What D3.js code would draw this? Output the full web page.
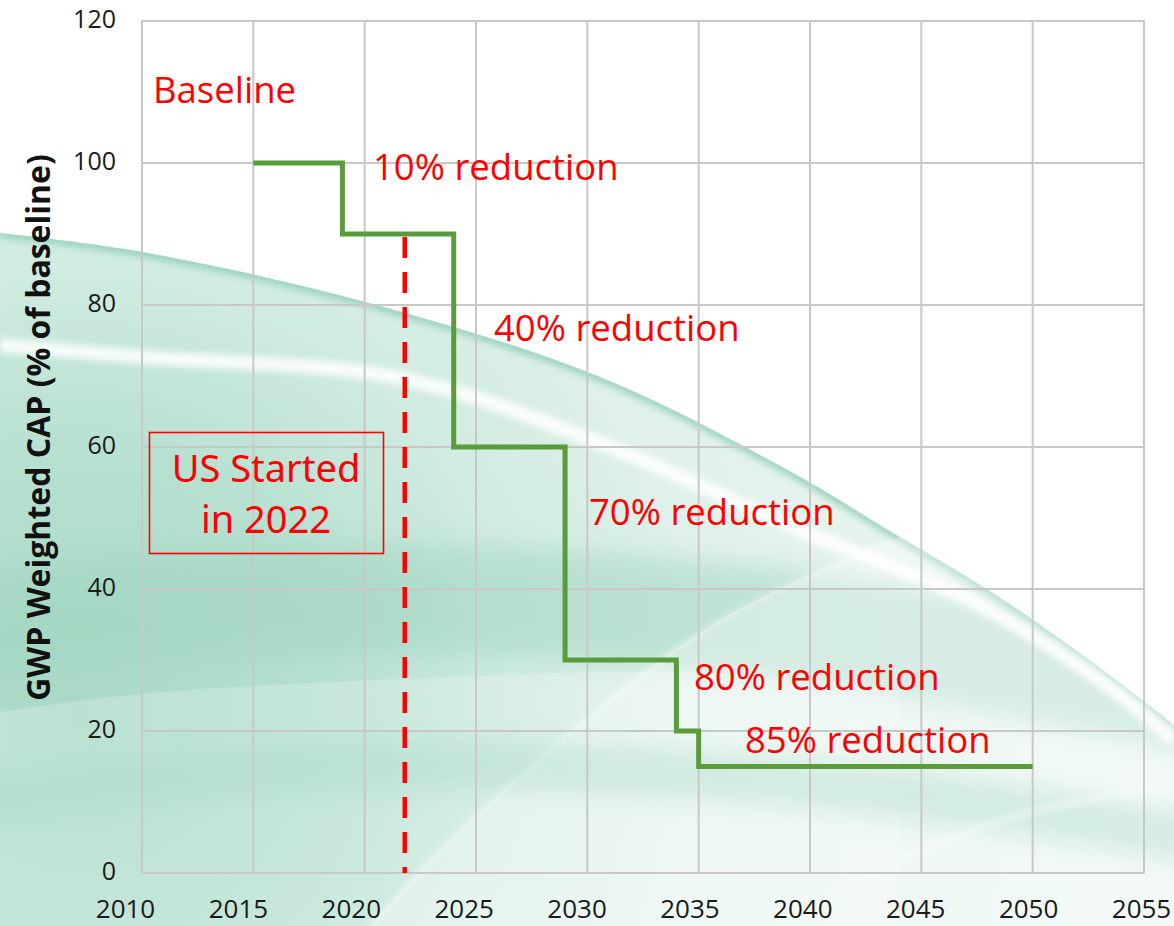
<!DOCTYPE html>
<html>
<head>
<meta charset="utf-8">
<script src="https://cdn.jsdelivr.net/npm/d3@7"></script>
<style>
  html, body { margin: 0; padding: 0; background: #ffffff; }
  svg { display: block; }
</style>
</head>
<body>
<div id="chart"></div>
<script>
// step schedule (year where the cap takes effect, % of baseline)
const stepYears = [2015, 2019, 2024, 2029, 2034, 2035, 2050];
const capValues = [100, 90, 60, 30, 20, 15, 15];

const startYear = 2021.8;
const xTicks = [2010, 2015, 2020, 2025, 2030, 2035, 2040, 2045, 2050, 2055];
const yTicks = [0, 20, 40, 60, 80, 100, 120];

const stepLabels = ["Baseline", "10% reduction", "40% reduction", "70% reduction", "80% reduction", "85% reduction"];
const boxLines = ["US Started", "in 2022"];

const width = 1174, height = 926;
const plot = { left: 142, right: 1144, top: 21, bottom: 873 };

const svg = d3.select("#chart").append("svg")
    .attr("width", width)
    .attr("height", height);

const x = d3.scaleLinear().domain([2010, 2055]).range([plot.left, plot.right]);
const y = d3.scaleLinear().domain([0, 120]).range([plot.bottom, plot.top]);
// tick labels in the picture sit a little left of the gridlines
const xLab = d3.scaleLinear().domain([2010, 2055]).range([125, 1141]);

// ---- background swoosh ----
const defs = svg.append("defs");
const grad = defs.append("radialGradient")
    .attr("id", "swoosh")
    .attr("gradientUnits", "userSpaceOnUse")
    .attr("cx", 80).attr("cy", 720).attr("r", 1050);
[[0, "#a9d9c6"], [0.25, "#b6e0d0"], [0.42, "#cfebe0"], [0.6, "#e0f1ea"], [1, "#edf7f3"]]
    .forEach(([o, c]) => grad.append("stop").attr("offset", o).attr("stop-color", c));

function blurFilter(id, sd) {
    defs.append("filter").attr("id", id)
        .attr("filterUnits", "userSpaceOnUse")
        .attr("x", 0).attr("y", 0).attr("width", width).attr("height", height)
        .append("feGaussianBlur").attr("stdDeviation", sd);
}
blurFilter("soft", 3);
blurFilter("softer", 12);

const edge = [[0, 233], [142, 252], [365, 302], [600, 377], [793, 473], [893, 533], [993, 593], [1093, 663], [1174, 725]];
const smooth = d3.line().curve(d3.curveCatmullRom);
const swooshPath = smooth(edge) + `L${width},${height}L0,${height}Z`;

defs.append("clipPath").attr("id", "swooshClip")
    .append("path").attr("d", swooshPath);

svg.append("path")
    .attr("d", swooshPath)
    .attr("fill", "url(#swoosh)");

const bg = svg.append("g").attr("clip-path", "url(#swooshClip)");

// teal rim along the upper edge
bg.append("path")
    .attr("d", smooth(edge))
    .attr("fill", "none").attr("stroke", "#8fcdb6").attr("stroke-width", 10)
    .attr("opacity", 0.8).attr("filter", "url(#soft)");

// darker bands in the lower left
bg.append("path")
    .attr("d", smooth([[-50, 630], [200, 605], [450, 600], [700, 615], [950, 650], [1200, 700]]))
    .attr("fill", "none").attr("stroke", "#9fd4bf").attr("stroke-width", 110)
    .attr("opacity", 0.5).attr("filter", "url(#softer)");

// lighter right-hand glass area
bg.append("path")
    .attr("d", smooth([[370, 926], [440, 850], [560, 740], [720, 620], [893, 540], [1000, 500]]) + `L${width},500L${width},${height}Z`)
    .attr("fill", "#ffffff").attr("opacity", 0.32);

// white streaks
bg.append("path")
    .attr("d", smooth([[0, 345], [140, 357], [400, 378], [600, 443], [800, 530], [970, 600], [1100, 680], [1174, 740]]))
    .attr("fill", "none").attr("stroke", "#ffffff").attr("stroke-width", 14)
    .attr("opacity", 0.85).attr("filter", "url(#soft)");
bg.append("path")
    .attr("d", smooth([[370, 926], [440, 850], [560, 740], [720, 620], [893, 540]]))
    .attr("fill", "none").attr("stroke", "#ffffff").attr("stroke-width", 3)
    .attr("opacity", 0.6).attr("filter", "url(#soft)");
bg.append("path")
    .attr("d", smooth([[0, 712], [140, 694], [450, 677], [700, 672], [900, 690]]) + `L900,${height}L0,${height}Z`)
    .attr("fill", "#ffffff").attr("opacity", 0.22);
bg.append("path")
    .attr("d", smooth([[-50, 805], [200, 775], [450, 765], [700, 775], [950, 800], [1200, 840]]))
    .attr("fill", "none").attr("stroke", "#a9d9c6").attr("stroke-width", 50)
    .attr("opacity", 0.4).attr("filter", "url(#softer)");
bg.append("path")
    .attr("d", smooth([[780, 926], [900, 860], [1020, 815], [1174, 785]]))
    .attr("fill", "none").attr("stroke", "#ffffff").attr("stroke-width", 4)
    .attr("opacity", 0.6).attr("filter", "url(#soft)");

// ---- grid ----
const grid = svg.append("g").attr("stroke", "#c8c8c8").attr("stroke-width", 2);
grid.selectAll(".vg").data(xTicks.slice(1, -1)).enter().append("line")
    .attr("x1", d => x(d)).attr("x2", d => x(d))
    .attr("y1", plot.top).attr("y2", plot.bottom);
grid.selectAll(".hg").data(yTicks.slice(1, -1)).enter().append("line")
    .attr("x1", plot.left).attr("x2", plot.right)
    .attr("y1", d => y(d)).attr("y2", d => y(d));
grid.append("rect")
    .attr("x", plot.left).attr("y", plot.top)
    .attr("width", plot.right - plot.left).attr("height", plot.bottom - plot.top)
    .attr("fill", "none");

// ---- axes ----
const tickFont = "'Open Sans', 'Liberation Sans', sans-serif";

const yAxis = svg.append("g")
    .attr("transform", `translate(116,-2)`)
    .call(d3.axisLeft(y).tickValues(yTicks).tickSize(0).tickPadding(0));
yAxis.select(".domain").remove();
yAxis.selectAll("text")
    .attr("font-family", tickFont).attr("font-size", 25).attr("fill", "#1a1a1a");

const xAxis = svg.append("g")
    .attr("transform", `translate(0,${plot.bottom + 27})`)
    .call(d3.axisBottom(xLab).tickValues(xTicks).tickFormat(d3.format("d")).tickSize(0).tickPadding(0));
xAxis.select(".domain").remove();
xAxis.selectAll("text")
    .attr("font-family", tickFont).attr("font-size", 26).attr("fill", "#1a1a1a");

svg.append("text")
    .attr("transform", `translate(50,${(155 + 700) / 2}) rotate(-90)`)
    .attr("text-anchor", "middle")
    .attr("font-family", tickFont).attr("font-weight", "bold").attr("font-size", 32)
    .attr("fill", "#111111")
    .text("GWP Weighted CAP (% of baseline)");

// ---- start marker ----
svg.append("line")
    .attr("x1", x(startYear)).attr("x2", x(startYear))
    .attr("y1", y(capValues[1]) + 3).attr("y2", y(0))
    .attr("stroke", "#ff0000").attr("stroke-width", 4.5)
    .attr("stroke-dasharray", "21 14");

// ---- step line ----
const stepLine = d3.line()
    .x((d, i) => x(stepYears[i]))
    .y(d => y(d))
    .curve(d3.curveStepAfter);

svg.append("path")
    .datum(capValues)
    .attr("d", stepLine)
    .attr("fill", "none")
    .attr("stroke", "#5a9b3c")
    .attr("stroke-width", 5)
    .attr("stroke-linejoin", "miter");

// ---- annotations ----
const labelFont = "'Open Sans', 'Liberation Sans', sans-serif";
const labelPos = [[153, 103], [373, 180], [494, 341], [589, 525], [694, 690], [745, 753]];
svg.append("g").selectAll("text").data(stepLabels).enter().append("text")
    .attr("x", (d, i) => labelPos[i][0])
    .attr("y", (d, i) => labelPos[i][1])
    .attr("font-family", labelFont).attr("font-size", 36.5)
    .attr("fill", "#ff0000")
    .text(d => d);

const box = svg.append("g");
box.append("rect")
    .attr("x", 149.5).attr("y", 432.5).attr("width", 234).attr("height", 121)
    .attr("fill", "none").attr("stroke", "#ff0000").attr("stroke-width", 1.6);
box.selectAll("text").data(boxLines).enter().append("text")
    .attr("x", 266)
    .attr("y", (d, i) => 482 + i * 51)
    .attr("text-anchor", "middle")
    .attr("font-family", "'Noto Sans', 'Open Sans', sans-serif").attr("font-size", 38)
    .attr("fill", "#ff0000")
    .text(d => d);
</script>
</body>
</html>
